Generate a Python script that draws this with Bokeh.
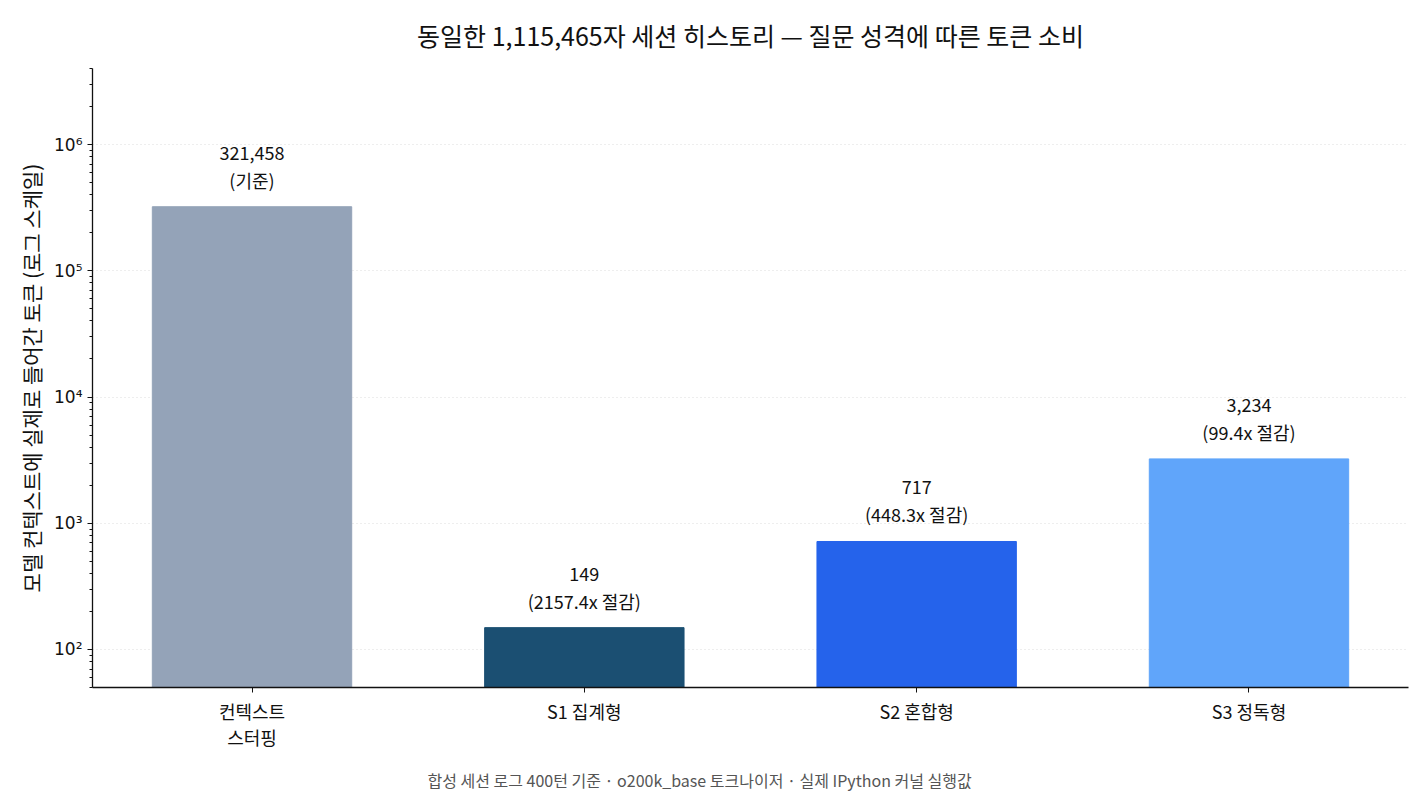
from bokeh.plotting import figure
from bokeh.models import ColumnDataSource, Range1d, FixedTicker, LabelSet, Title
from bokeh.core.properties import value
from bokeh.embed import file_html
from bokeh.resources import INLINE

# data
categories = ["컨텍스트\n스터핑", "S1 집계형", "S2 혼합형", "S3 정독형"]
tokens = [321458, 149, 717, 3234]
colors = ["#94a3b8", "#1b4f72", "#2563eb", "#60a5fa"]
y_ticks = [100, 1000, 10000, 100000, 1000000]
y_tick_labels = ["10²", "10³", "10⁴", "10⁵", "10⁶"]

FONT = "Noto Sans CJK KR"

base = tokens[0]
value_text = [f"{t:,}" for t in tokens]
note_text = ["(기준)"] + [f"({base / t:.1f}x 절감)" for t in tokens[1:]]

xs = list(range(len(categories)))
src = ColumnDataSource(dict(x=xs, top=tokens, color=colors,
                            value_text=value_text, note_text=note_text))

p = figure(width=1415, height=804, y_axis_type="log",
           x_range=Range1d(-0.48, 3.48), y_range=Range1d(50, 4.0e6),
           output_backend="svg", toolbar_location=None,
           min_border_left=92, min_border_right=7, min_border_top=68)
p.outline_line_color = None

p.title.text = "동일한 1,115,465자 세션 히스토리 — 질문 성격에 따른 토큰 소비"
p.title.align = "center"
p.title.vertical_align = "top"
p.title.text_font = FONT
p.title.text_font_size = "25px"
p.title.text_font_style = "normal"
p.title.text_color = "#111111"
p.title.standoff = 27

# bars
p.vbar(x="x", top="top", bottom=1, width=0.6, color="color", source=src)

# value labels (two lines above each bar)
for col, off in (("value_text", 54), ("note_text", 27)):
    p.add_layout(LabelSet(x="x", y="top", text=col, source=src, y_offset=off,
                          text_align="center", text_baseline="middle",
                          text_font=value(FONT), text_font_size=value("18px"),
                          text_color="#111111"))

# axes
minor = [m * 10 ** e for e in range(1, 7) for m in range(2, 10)]
p.yaxis.ticker = FixedTicker(ticks=y_ticks, minor_ticks=minor)
p.yaxis.major_label_overrides = dict(zip(y_ticks, y_tick_labels))
p.yaxis.axis_label = "모델 컨텍스트에 실제로 들어간 토큰 (로그 스케일)"
p.xaxis.ticker = FixedTicker(ticks=xs)
p.xaxis.major_label_overrides = dict(zip(xs, categories))

for ax in (p.xaxis, p.yaxis):
    ax.axis_line_color = "#111111"
    ax.axis_line_width = 1.3
    ax.major_tick_line_color = "#111111"
    ax.minor_tick_line_color = "#111111"
    ax.major_tick_in = 0
    ax.major_tick_out = 5
    ax.minor_tick_in = 0
    ax.minor_tick_out = 3
    ax.major_label_text_font = FONT
    ax.major_label_text_font_size = "18px"
    ax.major_label_text_color = "#111111"
    ax.axis_label_text_font = FONT
    ax.axis_label_text_font_size = "21px"
    ax.axis_label_text_font_style = "normal"
    ax.axis_label_text_color = "#111111"
p.xaxis.minor_tick_line_color = None
p.xaxis.major_label_text_line_height = 1.0
p.yaxis.major_label_text_font = "DejaVu Sans"
p.yaxis.major_label_text_font_size = "17px"

p.xgrid.grid_line_color = None
p.ygrid.grid_line_color = "#dcdcdc"
p.ygrid.grid_line_dash = "1 3"
p.ygrid.grid_line_width = 1

# caption
p.add_layout(Title(text="합성 세션 로그 400턴 기준 · o200k_base 토크나이저 · 실제 IPython 커널 실행값",
                   align="left", offset=335, standoff=26,
                   text_font=FONT, text_font_size="16px", text_font_style="normal",
                   text_color="#555555"), "below")

open("out.html", "w").write(file_html(p, INLINE))
